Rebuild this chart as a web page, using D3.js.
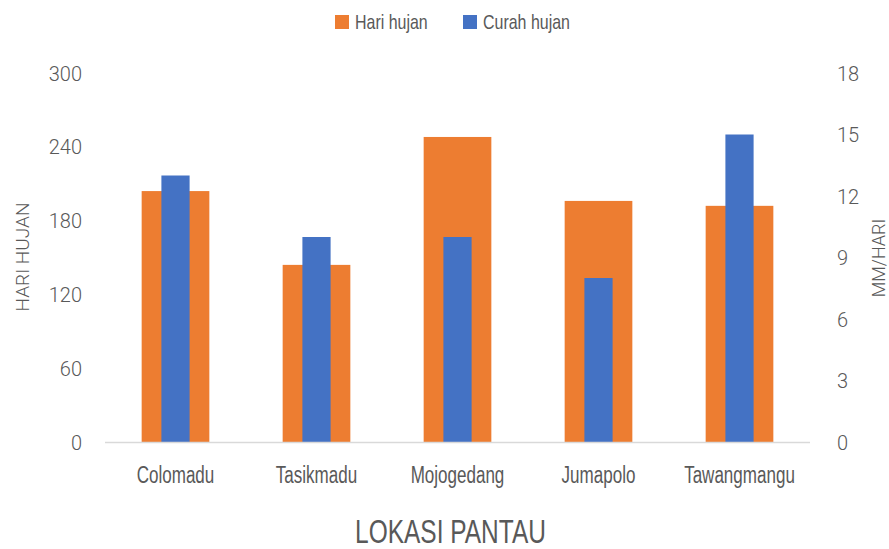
<!DOCTYPE html>
<html>
<head>
<meta charset="utf-8">
<script src="https://cdn.jsdelivr.net/npm/d3@7"></script>
<style>
  body { margin: 0; background: #fff; }
  svg text { fill: #595959; }
  .num { font-family: Roboto, "Open Sans", sans-serif; font-size: 20px; font-weight: 300; }
  .narrow { font-family: "Liberation Sans", Arial, sans-serif; }
</style>
</head>
<body>
<svg id="chart" width="889" height="549"></svg>
<script>
// data
var lokasi = ["Colomadu", "Tasikmadu", "Mojogedang", "Jumapolo", "Tawangmangu"];
var hariHujan = [204, 144, 248, 196, 192];
var curahHujan = [13, 10, 10, 8, 15];
var ticksKiri = [0, 60, 120, 180, 240, 300];
var ticksKanan = [0, 3, 6, 9, 12, 15, 18];
var seri = ["Hari hujan", "Curah hujan"];
var warna = ["#ED7D31", "#4472C4"];

var svg = d3.select("#chart");
var kiri = 105, kanan = 810, atas = 73, bawah = 442;

// squeeze text horizontally, the original uses a condensed font
function condense(sel, k) {
  sel.each(function() {
    var w = this.getComputedTextLength();
    d3.select(this).attr("textLength", w * k).attr("lengthAdjust", "spacingAndGlyphs");
  });
}

var x = d3.scaleBand().domain(lokasi).range([kiri, kanan]).paddingInner(0.52).paddingOuter(0.26);
var x2 = d3.scaleBand().domain(lokasi).range([kiri, kanan]).paddingInner(0.8).paddingOuter(0.4);
var yL = d3.scaleLinear().domain([0, 300]).range([bawah, atas]);
var yR = d3.scaleLinear().domain([0, 18]).range([bawah, atas]);

// bars
svg.append("g").selectAll("rect")
  .data(hariHujan)
  .enter()
  .append("rect")
  .attr("x", function(d, i) { return x(lokasi[i]); })
  .attr("y", function(d) { return yL(d); })
  .attr("width", x.bandwidth())
  .attr("height", function(d) { return yL(0) - yL(d); })
  .attr("fill", warna[0]);

svg.append("g").selectAll("rect")
  .data(curahHujan)
  .enter()
  .append("rect")
  .attr("x", function(d, i) { return x2(lokasi[i]); })
  .attr("y", function(d) { return yR(d); })
  .attr("width", x2.bandwidth())
  .attr("height", function(d) { return yR(0) - yR(d); })
  .attr("fill", warna[1]);

// baseline
svg.append("line")
  .attr("x1", kiri).attr("x2", kanan)
  .attr("y1", yL(0) + 0.5).attr("y2", yL(0) + 0.5)
  .attr("stroke", "#d9d9d9").attr("stroke-width", 1.5);

// left axis
var axL = svg.append("g").attr("transform", "translate(" + (kiri - 23) + ",0)")
  .call(d3.axisLeft(yL).tickValues(ticksKiri).tickSize(0).tickPadding(0));
axL.select(".domain").remove();
axL.selectAll("text").attr("class", "num").attr("fill", "#595959").attr("dy", "0.35em");

// right axis
var axR = svg.append("g").attr("transform", "translate(" + (kanan + 27) + ",0)")
  .call(d3.axisRight(yR).tickValues(ticksKanan).tickSize(0).tickPadding(0));
axR.select(".domain").remove();
axR.selectAll("text").attr("class", "num").attr("fill", "#595959").attr("dy", "0.35em");

// category labels
var kat = svg.append("g").selectAll("text")
  .data(lokasi)
  .enter()
  .append("text")
  .attr("class", "narrow")
  .attr("x", function(d) { return x(d) + x.bandwidth() / 2; })
  .attr("y", 483)
  .attr("text-anchor", "middle")
  .style("font-size", "23px")
  .text(function(d) { return d; });
condense(kat, 0.74);

// axis titles
var tx = svg.append("text")
  .attr("class", "narrow")
  .attr("x", (kiri + kanan) / 2 - 7)
  .attr("y", 543)
  .attr("text-anchor", "middle")
  .style("font-size", "34px")
  .text("LOKASI PANTAU");
condense(tx, 0.72);

svg.append("text")
  .attr("transform", "translate(29,257) rotate(-90)")
  .attr("text-anchor", "middle")
  .style("font-family", "Roboto, sans-serif")
  .style("font-size", "19px")
  .style("font-weight", 300)
  .text("HARI HUJAN");

svg.append("text")
  .attr("transform", "translate(885,258) rotate(-90)")
  .attr("text-anchor", "middle")
  .style("font-family", "Roboto, sans-serif")
  .style("font-size", "18px")
  .style("font-weight", 300)
  .text("MM/HARI");

// legend
var legX = [335, 463];
var leg = svg.append("g").selectAll("g")
  .data(seri)
  .enter()
  .append("g")
  .attr("transform", function(d, i) { return "translate(" + legX[i] + ",15)"; });
leg.append("rect").attr("width", 14).attr("height", 14)
  .attr("fill", function(d, i) { return warna[i]; });
var legText = leg.append("text")
  .attr("class", "narrow")
  .attr("x", 20).attr("y", 14)
  .style("font-size", "21px")
  .text(function(d) { return d; });
condense(legText, 0.76);
</script>
</body>
</html>
